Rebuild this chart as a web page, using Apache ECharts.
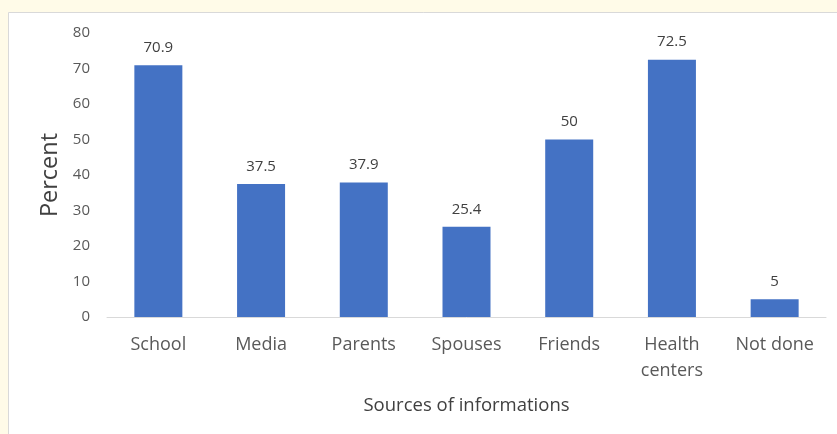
<!DOCTYPE html>
<html><head><meta charset="utf-8">
<script src="https://cdn.jsdelivr.net/npm/echarts@6/dist/echarts.min.js"></script>
<style>html,body{margin:0;padding:0;background:#fffbe8;}#c{width:837px;height:434px;}</style>
</head><body><div id="c"></div>
<script>
const categories = ["School", "Media", "Parents", "Spouses", "Friends", "Health\ncenters", "Not done"];
const percentValues = [70.9, 37.5, 37.9, 25.4, 50, 72.5, 5];
const yTicks = { min: 0, max: 80, interval: 10 };
const font = '"Open Sans", "Noto Sans", sans-serif';
const chart = echarts.init(document.getElementById('c'), null, {renderer: 'canvas'});
chart.setOption({
  backgroundColor: '#fffbe8',
  animation: false,
  graphic: [{
    type: 'rect', z: -10, silent: true,
    shape: { x: 8.5, y: 12.5, width: 840, height: 430 },
    style: { fill: '#ffffff', stroke: '#d9d9d9', lineWidth: 1 }
  }],
  grid: { left: 107, right: 11, top: 33, bottom: 117, containLabel: false },
  xAxis: {
    type: 'category', data: categories,
    name: 'Sources of informations', nameLocation: 'middle', nameGap: 79,
    nameTextStyle: { fontFamily: font, fontSize: 18.5, color: '#404040' },
    axisLine: { lineStyle: { color: '#d9d9d9', width: 1 } },
    axisTick: { show: false },
    axisLabel: { fontFamily: font, fontSize: 18, color: '#595959', margin: 15, lineHeight: 26, interval: 0 }
  },
  yAxis: {
    type: 'value', min: yTicks.min, max: yTicks.max, interval: yTicks.interval,
    name: 'Percent', nameLocation: 'middle', nameGap: 37,
    nameTextStyle: { fontFamily: font, fontSize: 23.5, color: '#404040' },
    axisLine: { show: false }, axisTick: { show: false },
    splitLine: { show: false },
    axisLabel: { fontFamily: font, fontSize: 15, color: '#595959', margin: 17 }
  },
  series: [{
    type: 'bar', data: percentValues, barWidth: 48,
    itemStyle: { color: '#4472c4' },
    label: { show: true, position: 'top', distance: 10, fontFamily: font, fontSize: 15, color: '#404040' }
  }]
});
</script></body></html>
